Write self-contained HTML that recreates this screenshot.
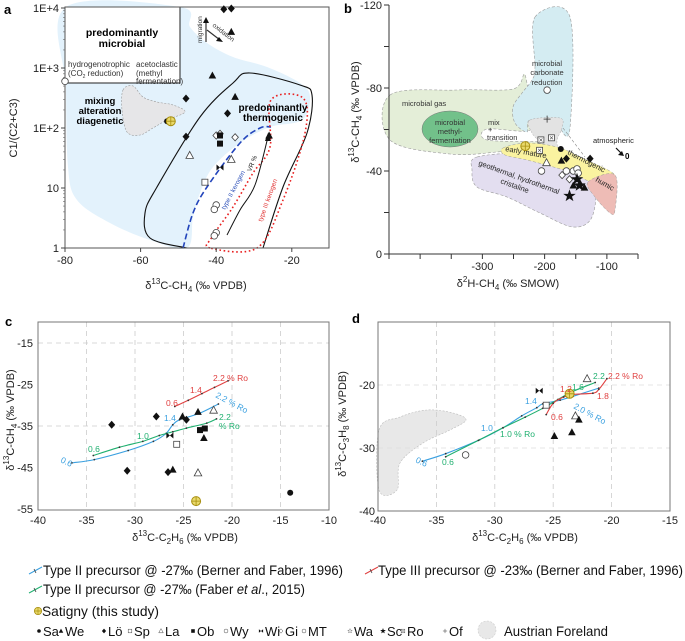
<!DOCTYPE html>
<html><head><meta charset="utf-8">
<style>
html,body{margin:0;padding:0;background:#fff;}
svg{display:block;font-family:"Liberation Sans",sans-serif;}
.t{font-size:11px;fill:#222;}
.lg{font-family:"Liberation Sans Narrow","Liberation Sans",sans-serif;font-size:14px;fill:#111;}
.lg2{font-family:"Liberation Sans Narrow","Liberation Sans",sans-serif;font-size:13px;fill:#111;}
</style></head>
<body>
<svg id="fig" width="685" height="641" viewBox="0 0 685 641" xmlns="http://www.w3.org/2000/svg">
<g id="regions"></g>
<g>
<text x="4" y="14" font-size="13" font-weight="bold">a</text>
<rect x="65" y="7" width="264" height="241" fill="none" stroke="#555" stroke-width="1"/>
<text class="t" x="196" y="289" text-anchor="middle" font-size="13">δ<tspan font-size="8" dy="-5">13</tspan><tspan dy="5">C-CH</tspan><tspan font-size="8" dy="3">4</tspan><tspan dy="-3"> (‰ VPDB)</tspan></text>
<text class="t" transform="translate(17,128) rotate(-90)" text-anchor="middle" font-size="13">C1/(C2+C3)</text>
<text x="122" y="36" text-anchor="middle" font-size="10.5" font-weight="bold">predominantly</text>
<text x="122" y="47" text-anchor="middle" font-size="10.5" font-weight="bold">microbial</text>
<text x="68" y="67" font-size="8" fill="#333">hydrogenotrophic</text>
<text x="68" y="76" font-size="8" fill="#333">(CO<tspan font-size="5" dy="2">2</tspan><tspan dy="-2"> reduction)</tspan></text>
<text x="136" y="67" font-size="8" fill="#333">acetoclastic</text>
<text x="136" y="76" font-size="8" fill="#333">(methyl</text>
<text x="136" y="84" font-size="8" fill="#333">fermentation)</text>
<text x="100" y="104" text-anchor="middle" font-size="9.5" font-weight="bold">mixing</text>
<text x="100" y="114" text-anchor="middle" font-size="9.5" font-weight="bold">alteration</text>
<text x="100" y="124" text-anchor="middle" font-size="9.5" font-weight="bold">diagenetic</text>
<text x="273" y="111" text-anchor="middle" font-size="10" font-weight="bold">predominantly</text>
<text x="273" y="121" text-anchor="middle" font-size="10" font-weight="bold">thermogenic</text>
<text transform="translate(225,210) rotate(-62)" font-size="6.5" fill="#3355bb">type II kerogen</text>
<text transform="translate(251,172) rotate(-68)" font-size="6.5" fill="#222">VR %</text>
<text transform="translate(262,222) rotate(-70)" font-size="6.5" fill="#e03030">type III kerogen</text>
<line x1="206" y1="42" x2="206" y2="21" stroke="#333" stroke-width="1.2"/>
<polygon points="206,17 203,23 209,23" fill="#111"/>
<line x1="207" y1="30" x2="220" y2="40" stroke="#333" stroke-width="1.2"/>
<polygon points="223,42 216,41 219,37" fill="#111"/>
<text transform="translate(202,43) rotate(-90)" font-size="6.5" fill="#333">migration</text>
<text transform="translate(212,26) rotate(38)" font-size="6.5" fill="#333">oxidation</text>
</g>
<g>
<text x="344" y="13" font-size="13" font-weight="bold">b</text>
<text class="t" x="508" y="287" text-anchor="middle" font-size="13">δ<tspan font-size="8" dy="-5">2</tspan><tspan dy="5">H-CH</tspan><tspan font-size="8" dy="3">4</tspan><tspan dy="-3"> (‰ SMOW)</tspan></text>
<text class="t" transform="translate(359,112) rotate(-90)" text-anchor="middle" font-size="13">δ<tspan font-size="8" dy="-5">13</tspan><tspan dy="5">C-CH</tspan><tspan font-size="8" dy="3">4</tspan><tspan dy="-3"> (‰ VPDB)</tspan></text>
<text x="547" y="66" text-anchor="middle" font-size="7.5" fill="#333">microbial</text>
<text x="547" y="75" text-anchor="middle" font-size="7.5" fill="#333">carbonate</text>
<text x="547" y="85" text-anchor="middle" font-size="7.5" fill="#333">reduction</text>
<text x="402" y="106" font-size="7.5" fill="#333">microbial gas</text>
<text x="450" y="125" text-anchor="middle" font-size="7.5" fill="#333">microbial</text>
<text x="450" y="134" text-anchor="middle" font-size="7.5" fill="#333">methyl-</text>
<text x="450" y="143" text-anchor="middle" font-size="7.5" fill="#333">fermentation</text>
<text x="488" y="125" font-size="7.5" fill="#333">mix</text>
<text x="488" y="132" font-size="7.5" fill="#333">+</text>
<text x="487" y="140" font-size="7.5" fill="#333">transition</text>
<text transform="translate(505,151) rotate(10)" font-size="7.5" fill="#222">early mature</text>
<text transform="translate(567,154) rotate(27)" font-size="7.5" fill="#222">thermogenic</text>
<text transform="translate(478,165) rotate(20)" font-size="7.5" fill="#222">geothermal, hydrothermal</text>
<text transform="translate(500,183) rotate(20)" font-size="7.5" fill="#222">cristaline</text>
<text transform="translate(595,181) rotate(30)" font-size="7.5" fill="#222">humic</text>
<text x="593" y="143" font-size="7.5" fill="#222">atmospheric</text>
<line x1="616" y1="148" x2="622" y2="154" stroke="#111" stroke-width="1.2"/>
<polygon points="624,156 618,155 622,151" fill="#111"/>
<text x="625" y="159" font-size="8" font-weight="bold">0</text>
</g>
<g>
<text x="5" y="326" font-size="13" font-weight="bold">c</text>
<text class="t" x="185" y="541" text-anchor="middle" font-size="13">δ<tspan font-size="8" dy="-5">13</tspan><tspan dy="5">C-C</tspan><tspan font-size="8" dy="3">2</tspan><tspan dy="-3">H</tspan><tspan font-size="8" dy="3">6</tspan><tspan dy="-3"> (‰ VPDB)</tspan></text>
<text class="t" transform="translate(14,420) rotate(-90)" text-anchor="middle" font-size="13">δ<tspan font-size="8" dy="-5">13</tspan><tspan dy="5">C-CH</tspan><tspan font-size="8" dy="3">4</tspan><tspan dy="-3"> (‰ VPDB)</tspan></text>
</g>
<g>
<text x="352" y="323" font-size="13" font-weight="bold">d</text>
<text class="t" x="525" y="541" text-anchor="middle" font-size="13">δ<tspan font-size="8" dy="-5">13</tspan><tspan dy="5">C-C</tspan><tspan font-size="8" dy="3">2</tspan><tspan dy="-3">H</tspan><tspan font-size="8" dy="3">6</tspan><tspan dy="-3"> (‰ VPDB)</tspan></text>
<text class="t" transform="translate(346,424) rotate(-90)" text-anchor="middle" font-size="13">δ<tspan font-size="8" dy="-5">13</tspan><tspan dy="5">C-C</tspan><tspan font-size="8" dy="3">3</tspan><tspan dy="-3">H</tspan><tspan font-size="8" dy="3">8</tspan><tspan dy="-3"> (‰ VPDB)</tspan></text>
</g>
<g>
<g>
<line x1="29" y1="574" x2="42" y2="567" stroke="#3aa0e0" stroke-width="1"/><line x1="34" y1="569" x2="36" y2="573" stroke="#333" stroke-width="0.8"/>
<text class="lg" x="43" y="575" textLength="300" lengthAdjust="spacingAndGlyphs">Type II precursor @ -27‰ (Berner and Faber, 1996)</text></g>
<g>
<line x1="365" y1="574" x2="378" y2="567" stroke="#e04040" stroke-width="1"/><line x1="370" y1="569" x2="372" y2="573" stroke="#333" stroke-width="0.8"/>
<text class="lg" x="378" y="575" textLength="305" lengthAdjust="spacingAndGlyphs">Type III precursor @ -23‰ (Berner and Faber, 1996)</text></g>
<g>
<line x1="29" y1="593" x2="42" y2="586" stroke="#20b070" stroke-width="1"/><line x1="34" y1="588" x2="36" y2="592" stroke="#333" stroke-width="0.8"/>
<text class="lg" x="43" y="594" textLength="262" lengthAdjust="spacingAndGlyphs">Type II precursor @ -27‰ (Faber <tspan font-style="italic">et al</tspan>., 2015)</text></g>
<g id="leg3">
<text class="lg" x="42" y="616" textLength="117" lengthAdjust="spacingAndGlyphs">Satigny (this study)</text></g>
<g id="leg4"></g>
</g>
<g id="marks"></g>
</svg>
<script>
// panel a: d13C-CH4 vs C1/(C2+C3)
const aX = [-38,-36,-48,-37,-48,-41,-35,-36,-26,-80,-40,-40.5,-40,-40.5,-47,-36,-40,-35,-39,-39,-39,-43,-39,-53,-52];
const aY = [9500,9800,310,175,72,750,330,4000,75,600,5.2,4.4,1.8,1.6,35,30,75,70,80,55,75,12.5,22,130,130];
const aT = ['df','df','df','df','df','tf','tf','tf','tf','co','co','co','co','co','to','to','do','do','do','sf','sf','so','bt','cf','sat'];
// panel b: d2H-CH4 vs d13C-CH4
const bX = [-196,-196,-206,-189,-208,-231,-174,-165,-127,-173,-197,-205,-165,-154,-148,-146,-172,-160,-148,-144,-160,-154,-136,-143];
const bY = [-79,-65,-55,-56,-50,-52,-50.6,-46,-46,-45,-44,-40,-40,-40,-41,-39,-38,-36,-36,-33,-28,-33,-32,-34];
const bT = ['co','pl','ro','ro','ro','sat','cf','df','df','tf','to','co','co','co','co','co','do','do','st','st','st','tf','tf','tf'];
// panel c
const cX = [-32.4,-27.8,-30.8,-26.6,-24.7,-25.1,-23.5,-22.9,-26.1,-26.4,-23.3,-22.8,-25.7,-21.9,-23.5,-14.0,-23.7];
const cY = [-34.7,-32.7,-45.8,-46.1,-33.5,-32.7,-31.6,-37.9,-45.5,-37.3,-36.0,-35.6,-39.4,-31.2,-46.3,-51.1,-53.1];
const cT = ['df','df','df','df','df','tf','tf','tf','tf','bt','sf','sf','so','to','to','cf','sat'];
const cBlueX = [-36.5,-34.2,-30.7,-28.1,-26.8,-26.1,-25.4,-23.3,-21.4];
const cBlueY = [-43.9,-43.1,-40.9,-38.7,-36.8,-34.7,-33.5,-31.9,-29.7];
const cGreenX = [-34.3,-31.6,-29.2,-27.5,-26.1,-24.7,-22.6,-21.6];
const cGreenY = [-42.1,-40.1,-38.7,-37.3,-36.4,-35.5,-34.3,-33.3];
const cRedX = [-25.9,-24.5,-23.1,-21.8,-20.4];
const cRedY = [-30.3,-28.8,-27.2,-25.7,-24.1];
// panel d
const dX = [-26.2,-25.6,-22.1,-23.1,-22.8,-24.9,-23.4,-32.5,-23.6];
const dY = [-20.9,-23.2,-19.0,-24.9,-25.5,-28.1,-27.5,-31.1,-21.4];
const dT = ['bt','so','to','to','tf','tf','tf','co','sat'];
const dBlueX = [-36.2,-34.2,-31.3,-29.3,-27.7,-26.4,-25.9,-24.4,-23.3,-21.1];
const dBlueY = [-32.1,-30.9,-28.7,-26.8,-24.9,-23.6,-23.0,-22.4,-21.8,-20.5];
const dGreenX = [-34.2,-31.4,-29.3,-27.4,-25.9,-24.6,-23.3,-21.4];
const dGreenY = [-31.4,-28.8,-26.8,-25.1,-23.7,-22.3,-21.0,-19.6];
const dRedX = [-25.6,-25.0,-24.1,-23.3,-21.6,-21.1,-20.4];
const dRedY = [-24.7,-22.9,-21.9,-21.5,-21.3,-20.7,-19.0];
// ticks
const aXTicks = [-80,-60,-40,-20];
const aYTicks = [1,10,100,1000,10000];
const aYLabels = ['1','10','1E+2','1E+3','1E+4'];
const bXTicks = [-450,-400,-350,-300,-250,-200,-150,-100,-50];
const bXLabels = ['','','','-300','','-200','','-100',''];
const bYTicks = [-120,-100,-80,-60,-40,-20,0];
const bYLabels = ['-120','','-80','','-40','','0'];
const cXTicks = [-40,-35,-30,-25,-20,-15,-10];
const cYTicks = [-15,-25,-35,-45,-55];
const dXTicks = [-40,-35,-30,-25,-20,-15];
const dYTicks = [-20,-30,-40];
const siteCodes = ['Sa','We','Lö','Sp','La','Ob','Wy','Wi','Gi','MT','Wa','Sc','Ro','Of'];
const siteTypes = ['cf','tf','df','so','to','sf','co','bt','do','co','sto','st','ro','pl'];

const ax = v => 65 + (v + 80) * 3.78;
const ay = v => 248 - Math.log10(v) * 60;
const bx = v => 389 + (v + 450) * 0.6225;
const by = v => 254 + v * 2.075;
const cx = v => 38 + (v + 40) * 9.7;
const cy = v => 343 - (v + 15) * 4.15;
const dx = v => 378 + (v + 40) * 11.68;
const dy = v => 385 - (v + 20) * 6.3;

const NS = 'http://www.w3.org/2000/svg';
const svg = document.getElementById('fig');
const regions = document.getElementById('regions');
const marks = document.getElementById('marks');
function el(tag, parent, attrs) {
  const e = document.createElementNS(NS, tag);
  for (const k in attrs) e.setAttribute(k, attrs[k]);
  parent.appendChild(e);
  return e;
}
function smooth(pts, closed) {
  const n = pts.length; let d = 'M' + pts[0][0] + ',' + pts[0][1];
  const P = i => closed ? pts[(i + n) % n] : pts[Math.max(0, Math.min(n - 1, i))];
  const last = closed ? n : n - 1;
  for (let i = 0; i < last; i++) {
    const p0 = P(i - 1), p1 = P(i), p2 = P(i + 1), p3 = P(i + 2);
    const c1 = [p1[0] + (p2[0] - p0[0]) / 6, p1[1] + (p2[1] - p0[1]) / 6];
    const c2 = [p2[0] - (p3[0] - p1[0]) / 6, p2[1] - (p3[1] - p1[1]) / 6];
    d += 'C' + c1[0].toFixed(1) + ',' + c1[1].toFixed(1) + ' ' + c2[0].toFixed(1) + ',' + c2[1].toFixed(1) + ' ' + p2[0] + ',' + p2[1];
  }
  return d + (closed ? 'Z' : '');
}
function region(name, pts, closed, fill, stroke, dash, sw) {
  const p = el('path', regions, {d: smooth(pts, closed), fill: fill, stroke: stroke, 'stroke-width': sw || 0.8});
  if (dash) p.setAttribute('stroke-dasharray', dash);
  
  
  return p;
}

region('microbial-field', [[180,7],[190,27],[207,43],[233,57],[267,67],[300,83],[310,97],[302,120],[270,127],[240,143],[213,167],[200,193],[193,217],[187,248],[150,240],[110,223],[77,200],[68,167],[66,88],[66,7]], true, '#e3f2fc', 'none');
region('mixing-field', [[123,90],[133,86],[143,97],[157,102],[173,105],[185,112],[167,120],[153,128],[140,135],[127,132],[122,110]], true, '#e6e6e8', '#999', '2,1.5', 0.6);
const box = el('rect', regions, {x:65, y:7, width:115, height:76, fill:'#fff', stroke:'#222', 'stroke-width':1});


region('thermogenic-envelope', [[187,248],[150,238],[145,213],[157,187],[200,117],[233,83],[250,73],[300,85],[312,95],[307,133],[283,187],[263,248]], false, 'none', '#111', null, 1.1);
region('type-ii-kerogen-line', [[183,248],[193,213],[207,187],[240,143],[260,128],[271,127]], false, 'none', '#2244bb', '6,3', 1.6);
region('type-iii-kerogen-field', [[210,248],[212,237],[233,207],[253,173],[270,147],[271,100],[303,98],[305,133],[283,200],[257,248]], true, 'none', '#e82020', '1.6,2.6', 1.6);
region('vr-arrow', [[227,235],[240,210],[255,185],[268,137]], false, 'none', '#111', null, 1);
const ah = el('polygon', regions, {points:'268,133 265,141 271,141', fill:'#111'});



region('microbial-gas-field', [[390,95],[457,90],[513,89],[525,75],[530,120],[527,131],[487,129],[487,140],[540,142],[537,147],[497,152],[450,154],[390,140]], true, '#e4eed8', '#999', '3,2', 0.6);
region('carbonate-reduction-field', [[535,17],[570,17],[570,128],[560,128],[560,120],[530,120],[527,132],[515,123],[513,107],[522,93],[532,80],[535,67]], true, '#d4ecf2', '#999', '3,2', 0.6);
const ell = el('ellipse', regions, {cx:450, cy:129, rx:28, ry:18, fill:'#72c18a', stroke:'#777', 'stroke-width':0.5});


region('mix-field', [[530,120],[560,118],[562,128],[557,140],[557,153],[543,155],[540,143],[532,133]], true, '#e3e3e3', '#aaa', '2,1.5', 0.5);
region('geothermal-field', [[477,157],[527,153],[560,160],[593,182],[592,217],[573,227],[540,213],[507,197],[477,187],[472,170]], true, '#e3def0', '#999', '3,2', 0.6);
region('early-mature-field', [[503,148],[527,143],[557,147],[580,157],[615,175],[593,182],[573,173],[557,168],[527,160],[505,155]], true, '#faf3a0', '#999', '3,2', 0.5);
region('humic-field', [[588,182],[615,175],[615,210],[610,213],[595,197]], true, '#eebcb6', '#999', '3,2', 0.5);
region('transition-boundary', [[563,128],[585,157]], false, 'none', '#888', '3,2', 0.6);

region('austrian-foreland-field', [[379,430],[400,417],[427,410],[453,413],[466,420],[450,430],[423,443],[400,463],[397,490],[379,490]], true, '#e8e8e8', '#bbb', '2,1.5', 0.6);

function line(parent, name, x1, y1, x2, y2, stroke, sw, dash) {
  const l = el('line', parent, {x1:x1, y1:y1, x2:x2, y2:y2, stroke:stroke, 'stroke-width':sw});
  if (dash) l.setAttribute('stroke-dasharray', dash);
  
  
  return l;
}
function txt(parent, name, x, y, s, anchor, size) {
  const t = el('text', parent, {x:x, y:y, 'text-anchor':anchor || 'middle', 'font-size':size || 11, fill:'#222'});
  t.textContent = s;
  
  
  return t;
}
const axes = el('g', svg, {});


svg.insertBefore(axes, marks);
aXTicks.forEach(v => { line(axes, 'a-x-tick', ax(v), 248, ax(v), 252, '#444', 1); txt(axes, 'a-x-tick-label', ax(v), 264, String(v)); });
aYTicks.forEach((v, i) => {
  line(axes, 'a-y-tick', 61, ay(v), 65, ay(v), '#444', 1);
  txt(axes, 'a-y-tick-label', 59, ay(v) + 4, aYLabels[i], 'end');
  if (v < 10000) for (let m = 2; m < 10; m++) line(axes, 'a-y-minor-tick', 63, ay(v * m), 65, ay(v * m), '#666', 0.6);
});
line(axes, 'b-y-axis', 389, 5, 389, 254, '#333', 1);
line(axes, 'b-x-axis', 389, 254, 638, 254, '#333', 1);
bXTicks.forEach((v, i) => { line(axes, 'b-x-tick', bx(v), 254, bx(v), 259, '#333', 1); if (bXLabels[i]) txt(axes, 'b-x-tick-label', bx(v), 270, bXLabels[i]); });
bYTicks.forEach((v, i) => { line(axes, 'b-y-tick', 384, by(v), 389, by(v), '#333', 1); if (bYLabels[i]) txt(axes, 'b-y-tick-label', 382, by(v) + 4, bYLabels[i], 'end'); });
cXTicks.forEach(v => { if (v > -40 && v < -10) line(axes, 'c-x-grid', cx(v), 322, cx(v), 510, '#ccc', 0.8, '5,4'); txt(axes, 'c-x-tick-label', cx(v), 524, String(v)); });
[-15, -35].forEach(v => line(axes, 'c-y-grid', 38, cy(v), 329, cy(v), '#ccc', 0.8, '5,4'));
cYTicks.forEach(v => txt(axes, 'c-y-tick-label', 33, cy(v) + 4, String(v), 'end'));
const cf = el('rect', axes, {x:38, y:322, width:291, height:188, fill:'none', stroke:'#777', 'stroke-width':1});


dXTicks.forEach(v => { if (v > -40 && v < -15) line(axes, 'd-x-grid', dx(v), 322, dx(v), 511, '#ccc', 0.8, '5,4'); txt(axes, 'd-x-tick-label', dx(v), 524, String(v)); });
[-20, -30].forEach(v => line(axes, 'd-y-grid', 378, dy(v), 670, dy(v), '#ddd', 0.8, '5,4'));
dYTicks.forEach(v => txt(axes, 'd-y-tick-label', 375, dy(v) + 4, String(v), 'end'));
const df = el('rect', axes, {x:378, y:322, width:292, height:189, fill:'none', stroke:'#777', 'stroke-width':1});



function mk(parent, t, x, y, s) {
  s = s || 1;
  const g = el('g', parent, {transform: 'translate(' + x.toFixed(1) + ',' + y.toFixed(1) + ') scale(' + s + ')'});
  const k = '#111';
  if (t === 'cf') el('circle', g, {r:3, fill:k});
  else if (t === 'co') el('circle', g, {r:3.3, fill:'#fff', stroke:'#444', 'stroke-width':0.8});
  else if (t === 'df') el('polygon', g, {points:'0,-4 3.5,0 0,4 -3.5,0', fill:k});
  else if (t === 'do') el('polygon', g, {points:'0,-3.6 3.3,0 0,3.6 -3.3,0', fill:'#fff', stroke:'#444', 'stroke-width':0.8});
  else if (t === 'tf') el('polygon', g, {points:'0,-4 3.8,3 -3.8,3', fill:k});
  else if (t === 'to') el('polygon', g, {points:'0,-4 3.8,3 -3.8,3', fill:'#fff', stroke:'#444', 'stroke-width':0.8});
  else if (t === 'sf') el('rect', g, {x:-3, y:-3, width:6, height:6, fill:k});
  else if (t === 'so') el('rect', g, {x:-3, y:-3, width:6, height:6, fill:'#fff', stroke:'#444', 'stroke-width':0.8});
  else if (t === 'bt') el('polygon', g, {points:'-3.5,-3 3.5,3 3.5,-3 -3.5,3', fill:k});
  else if (t === 'st') el('polygon', g, {points:'0,-5 1.2,-1.6 4.8,-1.6 1.9,0.6 3,4 0,2 -3,4 -1.9,0.6 -4.8,-1.6 -1.2,-1.6', fill:k});
  else if (t === 'sto') el('polygon', g, {points:'0,-4 1,-1.3 3.8,-1.3 1.5,0.5 2.4,3.2 0,1.6 -2.4,3.2 -1.5,0.5 -3.8,-1.3 -1,-1.3', fill:'#fff', stroke:'#444', 'stroke-width':0.6});
  else if (t === 'pl') { el('line', g, {x1:-3.5, y1:0, x2:3.5, y2:0, stroke:'#333', 'stroke-width':0.8}); el('line', g, {x1:0, y1:-3.5, x2:0, y2:3.5, stroke:'#333', 'stroke-width':0.8}); }
  else if (t === 'ro') { el('rect', g, {x:-3, y:-3, width:6, height:6, fill:'#fff', stroke:'#444', 'stroke-width':0.8}); el('path', g, {d:'M-1.5,-1.5L1.5,1.5M1.5,-1.5L-1.5,1.5', stroke:'#444', 'stroke-width':0.6}); }
  else if (t === 'sat') { el('circle', g, {r:4.5, fill:'#e9d96a', stroke:'#a88f10', 'stroke-width':1}); el('path', g, {d:'M-4.5,0H4.5M0,-4.5V4.5', stroke:'#a88f10', 'stroke-width':0.8}); }
  return g;
}
aX.forEach((v, i) => {
  const m = mk(marks, aT[i], ax(v), ay(aY[i]));
  
  
});
bX.forEach((v, i) => {
  const m = mk(marks, bT[i], bx(v), by(bY[i]), bT[i] === 'st' ? 1.3 : 1);
  
  
});

function series(name, xs, ys, X, Y, color) {
  const pts = xs.map((v, i) => [+X(v).toFixed(1), +Y(ys[i]).toFixed(1)]);
  const p = el('path', marks, {d: smooth(pts, false), fill:'none', stroke:color, 'stroke-width':1.1});
  
  
  pts.forEach(q => {
    const t = el('circle', marks, {cx:q[0], cy:q[1], r:0.9, fill:'#333'});
    
    
  });
}
series('c-type-ii-berner-line', cBlueX, cBlueY, cx, cy, '#3aa0e0');
series('c-type-ii-faber-line', cGreenX, cGreenY, cx, cy, '#20b070');
series('c-type-iii-berner-line', cRedX, cRedY, cx, cy, '#e04040');
series('d-type-ii-berner-line', dBlueX, dBlueY, dx, dy, '#3aa0e0');
series('d-type-ii-faber-line', dGreenX, dGreenY, dx, dy, '#20b070');
series('d-type-iii-berner-line', dRedX, dRedY, dx, dy, '#e04040');
cX.forEach((v, i) => {
  const m = mk(marks, cT[i], cx(v), cy(cY[i]));
  
  
});
dX.forEach((v, i) => {
  const m = mk(marks, dT[i], dx(v), dy(dY[i]));
  
  
});
function lab(s, x, y, color, rot) {
  const t = el('text', marks, {x:x, y:y, 'font-size':8.5, fill:color, 'font-family':'Liberation Sans Narrow, Liberation Sans, sans-serif'});
  if (rot) t.setAttribute('transform', 'rotate(' + rot + ' ' + x + ' ' + y + ')');
  t.textContent = s;
  
  
}
const B = '#3aa0e0', G = '#20b070', R = '#e04040';
lab('0.6', 60, 462, B, 25); lab('1.4', 164, 421, B, 0); lab('2.2 % Ro', 215, 397, B, 28);
lab('0.6', 88, 452, G, 0); lab('1.0', 137, 439, G, 0); lab('2.2', 219, 420, G, 0); lab('% Ro', 219, 429, G, 0);
lab('0.6', 166, 406, R, 0); lab('1.4', 190, 393, R, 0); lab('2.2 % Ro', 213, 381, R, 0);
lab('0.6', 415, 462, B, 25); lab('1.0', 481, 431, B, 0); lab('1.4', 525, 404, B, 0); lab('2.0 % Ro', 573, 408, B, 28);
lab('0.6', 442, 465, G, 0); lab('1.0 % Ro', 500, 437, G, 0); lab('1.6', 572, 390, G, 0); lab('2.2', 593, 379, G, 0);
lab('1.2', 560, 392, R, 0); lab('1.8', 597, 399, R, 0); lab('0.6', 551, 420, R, 0); lab('2.2 % Ro', 608, 379, R, 0);

const leg3 = document.getElementById('leg3');
const ls = mk(leg3, 'sat', 38, 611, 0.8);


const leg4 = document.getElementById('leg4');
const legX = [39,61,104,130,161,193,226,261,281,304,350,383,403,445];
siteCodes.forEach((c, i) => {
  const g = el('g', leg4, {});
  
  
  mk(g, siteTypes[i], legX[i], 631, 0.6);
  const t = el('text', g, {x: legX[i] + 4, y: 636, 'class':'lg2'});
  t.textContent = c;
});
const af = el('g', leg4, {});


el('circle', af, {cx:487, cy:630, r:9, fill:'#e8e8e8', stroke:'#ccc', 'stroke-width':0.6, 'stroke-dasharray':'2,1.5'});
const aft = el('text', af, {x:504, y:636, 'class':'lg', textLength:104, lengthAdjust:'spacingAndGlyphs'});
aft.textContent = 'Austrian Foreland';
</script>
</body></html>
